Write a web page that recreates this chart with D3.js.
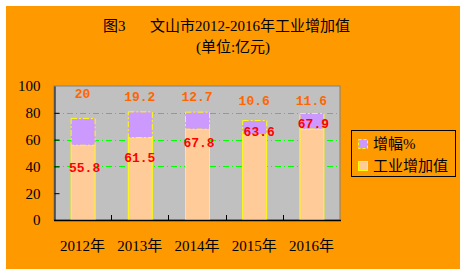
<!DOCTYPE html>
<html>
<head>
<meta charset="utf-8">
<script src="https://cdn.jsdelivr.net/npm/d3@7"></script>
<style>
  body { margin: 0; background: #fff; }
  text { font-family: 'Liberation Serif', 'Noto Sans CJK SC', serif; }
</style>
</head>
<body>
<svg id="chart" width="467" height="274"></svg>
<script>
// data ------------------------------
const years = ['2012年', '2013年', '2014年', '2015年', '2016年']
const addedValue = [55.8, 61.5, 67.8, 63.6, 67.9] // 工业增加值
const growth = [20, 19.2, 12.7, 10.6, 11.6] // 增幅%
const yTicks = [0, 20, 40, 60, 80, 100]
const gridTicks = [40, 60, 80]
const seriesNames = ['增幅%', '工业增加值']

// label nudges (px), hand placed like the original
const growthLabelDy = [7, 10.5, 10.5, 14.5, 14.5]
const valueLabelDy = [22, 20, 13, -3, -6]
const valueLabelDx = [2, 0, 2, 5, 2]

function draw() {
  const svg = d3.select('#chart')
  const m = { left: 54, right: 340, top: 86, bottom: 220 }

  svg.append('rect')
    .attr('x', 6).attr('y', 6).attr('width', 454).attr('height', 263)
    .attr('fill', '#FF9900')

  // title
  svg.append('text').attr('x', 103).attr('y', 31).attr('font-size', 15).text('图3')
  svg.append('text').attr('x', 150).attr('y', 31).attr('font-size', 15).text('文山市2012-2016年工业增加值')
  svg.append('text').attr('x', 233).attr('y', 52).attr('font-size', 15)
    .attr('text-anchor', 'middle').text('(单位:亿元)')

  const x = d3.scaleBand().domain(years).range([m.left, m.right]).paddingInner(0).paddingOuter(0)
  const y = d3.scaleLinear().domain([0, 100]).range([m.bottom, m.top])
  const barW = 24

  // plot area
  svg.append('rect')
    .attr('x', m.left).attr('y', m.top)
    .attr('width', m.right - m.left).attr('height', m.bottom - m.top)
    .attr('fill', '#C0C0C0').attr('stroke', '#808080').attr('stroke-width', 1)

  svg.selectAll('.grid')
    .data(gridTicks)
    .join('line')
    .attr('x1', m.left).attr('x2', m.right)
    .attr('y1', (d) => Math.round(y(d)) + 0.5).attr('y2', (d) => Math.round(y(d)) + 0.5)
    .attr('stroke', '#00FF00').attr('stroke-width', 1)
    .attr('stroke-dasharray', '6,3,1,3')

  // stacked bars
  const stack = years.map((yr, i) => ({ yr, v: addedValue[i], g: growth[i] }))

  svg.selectAll('.base')
    .data(stack)
    .join('rect')
    .attr('x', (d) => x(d.yr) + x.bandwidth() / 2 - barW / 2 + 0.5)
    .attr('y', (d) => y(d.v))
    .attr('width', barW)
    .attr('height', (d) => y(0) - y(d.v))
    .attr('fill', '#FFCC99')
    .attr('stroke', '#FFFF00')

  svg.selectAll('.top')
    .data(stack)
    .join('rect')
    .attr('x', (d) => x(d.yr) + x.bandwidth() / 2 - barW / 2 + 0.5)
    .attr('y', (d) => y(d.v + d.g))
    .attr('width', barW)
    .attr('height', (d) => y(d.v) - y(d.v + d.g))
    .attr('fill', '#CC99FF')
    .attr('stroke', '#FFFF00')
    .attr('stroke-dasharray', '6,2,2,2')

  // axes
  const yAxis = d3.axisLeft(y).tickValues(yTicks).tickSize(-5).tickPadding(14).tickSizeOuter(0)
  const gy = svg.append('g').attr('transform', `translate(${m.left + 0.5},0)`).call(yAxis)
  gy.selectAll('text').attr('font-size', 15).attr('fill', '#000')
    .style('font-family', "'Liberation Serif', serif")
  gy.selectAll('line, path').attr('stroke', '#000')
  gy.selectAll('.tick').filter((d) => d === 0 || d === 100).select('line').remove()

  svg.append('line')
    .attr('x1', m.left).attr('x2', m.right + 1)
    .attr('y1', m.bottom + 0.5).attr('y2', m.bottom + 0.5)
    .attr('stroke', '#000').attr('stroke-width', 1.5)

  svg.selectAll('.xtick')
    .data(years.slice(1))
    .join('line')
    .attr('x1', (d) => Math.round(x(d)) + 0.5).attr('x2', (d) => Math.round(x(d)) + 0.5)
    .attr('y1', m.bottom).attr('y2', m.bottom - 5)
    .attr('stroke', '#000')

  svg.selectAll('.xlab')
    .data(years)
    .join('text')
    .attr('x', (d) => x(d) + x.bandwidth() / 2)
    .attr('y', 251)
    .attr('text-anchor', 'middle')
    .attr('font-size', 15)
    .text((d) => d)

  // data labels
  svg.selectAll('.glab')
    .data(stack)
    .join('text')
    .attr('x', (d) => x(d.yr) + x.bandwidth() / 2)
    .attr('y', (d, i) => y(100) + growthLabelDy[i])
    .attr('dy', '0.35em')
    .attr('text-anchor', 'middle')
    .attr('font-size', 13)
    .attr('font-weight', 'bold')
    .attr('fill', '#FF6600')
    .style('font-family', "'Liberation Mono', monospace")
    .text((d) => d.g)

  svg.selectAll('.vlab')
    .data(stack)
    .join('text')
    .attr('x', (d, i) => x(d.yr) + x.bandwidth() / 2 + valueLabelDx[i])
    .attr('y', (d, i) => y(d.v) + valueLabelDy[i])
    .attr('dy', '0.35em')
    .attr('text-anchor', 'middle')
    .attr('font-size', 13)
    .attr('font-weight', 'bold')
    .attr('fill', '#FF0000')
    .style('font-family', "'Liberation Mono', monospace")
    .text((d) => d.v)

  // legend
  const lg = svg.append('g')
  lg.append('rect')
    .attr('x', 351.5).attr('y', 130.5).attr('width', 104).attr('height', 46)
    .attr('fill', 'none').attr('stroke', '#000')
  const fills = ['#CC99FF', '#FFCC99']
  const dashes = ['3,2', null]
  seriesNames.forEach((name, i) => {
    lg.append('rect')
      .attr('x', 358.5).attr('y', 139.5 + i * 22).attr('width', 9).attr('height', 9)
      .attr('fill', fills[i]).attr('stroke', '#FFFF00')
      .attr('stroke-dasharray', dashes[i])
    lg.append('text')
      .attr('x', 373).attr('y', 144 + i * 22).attr('dy', '0.35em')
      .attr('font-size', 15).text(name)
  })
}

draw()
</script>
</body>
</html>
